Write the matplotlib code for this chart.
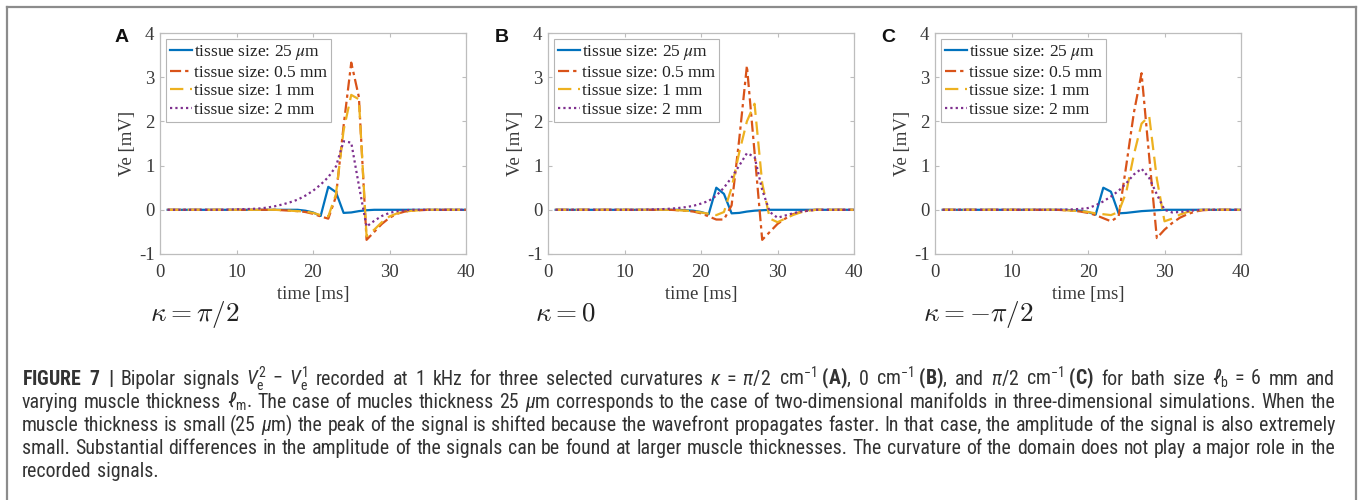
import matplotlib
matplotlib.use("Agg")
import matplotlib.pyplot as plt
from matplotlib import font_manager
from matplotlib.font_manager import FontProperties
from matplotlib.lines import Line2D

# time axis, sampled at 1 kHz (1 ms steps)
t = list(range(1, 41))

# panel A: kappa = pi/2
blue_a = [0, 0, 0, 0, 0, 0, 0, 0, 0, 0,
          0, 0, 0, 0, 0, 0, 0, 0, -0.02, -0.06,
          -0.14, 0.52, 0.40, -0.07, -0.06, -0.03, -0.01, 0, 0, 0,
          0, 0, 0, 0, 0, 0, 0, 0, 0, 0]
red_a = [0, 0, 0, 0, 0, 0, 0, 0, 0, 0,
         0, 0, 0, 0, 0, -0.01, -0.02, -0.03, -0.05, -0.09,
         -0.15, -0.2, 0.3, 1.9, 3.33, 2.55, -0.68, -0.5, -0.32, -0.18,
         -0.09, -0.04, -0.02, -0.01, 0, 0, 0, 0, 0, 0]
yellow_a = [0, 0, 0, 0, 0, 0, 0, 0, 0, 0,
            0, 0, 0, 0, 0, -0.01, -0.02, -0.03, -0.04, -0.07,
            -0.12, -0.15, 0.35, 1.8, 2.6, 2.5, -0.6, -0.45, -0.28, -0.15,
            -0.08, -0.04, -0.02, -0.01, 0, 0, 0, 0, 0, 0]
purple_a = [0, 0, 0, 0, 0, 0, 0, 0, 0.005, 0.01,
            0.015, 0.02, 0.03, 0.05, 0.08, 0.12, 0.17, 0.23, 0.32, 0.43,
            0.57, 0.74, 0.98, 1.55, 1.52, 0.55, -0.38, -0.25, -0.14, -0.07,
            -0.03, -0.01, 0, 0, 0, 0, 0, 0, 0, 0]

# panel B: kappa = 0
blue_b = [0, 0, 0, 0, 0, 0, 0, 0, 0, 0,
          0, 0, 0, 0, 0, 0, 0, -0.01, -0.02, -0.05,
          -0.1, 0.5, 0.36, -0.08, -0.07, -0.04, -0.02, -0.01, 0, 0,
          0, 0, 0, 0, 0, 0, 0, 0, 0, 0]
red_b = [0, 0, 0, 0, 0, 0, 0, 0, 0, 0,
         0, 0, 0, 0, 0, 0, -0.01, -0.02, -0.04, -0.08,
         -0.15, -0.22, -0.22, 0.1, 1.6, 3.26, 1.3, -0.68, -0.5, -0.32,
         -0.2, -0.1, -0.05, -0.02, 0, 0, 0, 0, 0, 0]
yellow_b = [0, 0, 0, 0, 0, 0, 0, 0, 0, 0,
            0, 0, 0, 0, 0, 0, -0.01, -0.02, -0.03, -0.06,
            -0.09, -0.12, -0.05, 0.5, 1.3, 2.0, 2.4, 0.6, -0.2, -0.28,
            -0.2, -0.12, -0.06, -0.02, 0, 0, 0, 0, 0, 0]
purple_b = [0, 0, 0, 0, 0, 0, 0, 0, 0, 0,
            0, 0, 0.005, 0.01, 0.015, 0.025, 0.04, 0.06, 0.09, 0.14,
            0.2, 0.32, 0.5, 0.73, 1.0, 1.28, 1.2, 0.45, -0.05, -0.18,
            -0.13, -0.08, -0.04, -0.02, 0, 0, 0, 0, 0, 0]

# panel C: kappa = -pi/2
blue_c = [0, 0, 0, 0, 0, 0, 0, 0, 0, 0,
          0, 0, 0, 0, 0, 0, 0, -0.01, -0.02, -0.05,
          -0.11, 0.5, 0.41, -0.08, -0.07, -0.05, -0.03, -0.02, -0.01, 0,
          0, 0, 0, 0, 0, 0, 0, 0, 0, 0]
red_c = [0, 0, 0, 0, 0, 0, 0, 0, 0, 0,
         0, 0, 0, 0, 0, 0, -0.01, -0.02, -0.04, -0.07,
         -0.12, -0.19, -0.26, -0.15, 1.0, 2.2, 3.09, 1.2, -0.64, -0.45,
         -0.3, -0.18, -0.1, -0.04, -0.01, 0, 0, 0, 0, 0]
yellow_c = [0, 0, 0, 0, 0, 0, 0, 0, 0, 0,
            0, 0, 0, 0, 0, 0, -0.01, -0.02, -0.03, -0.05,
            -0.08, -0.1, -0.12, -0.05, 0.4, 1.25, 1.95, 2.12, 0.7, -0.26,
            -0.2, -0.11, -0.05, -0.02, 0, 0, 0, 0, 0, 0]
purple_c = [0, 0, 0, 0, 0, 0, 0, 0, 0, 0,
            0, 0, 0, 0, 0, 0, 0.005, 0.01, 0.02, 0.04,
            0.1, 0.19, 0.3, 0.43, 0.6, 0.8, 0.93, 0.72, 0.35, 0.0,
            -0.06, -0.05, -0.03, -0.01, 0, 0, 0, 0, 0, 0]

labels = [r"tissue size: 25 $\mu$m", "tissue size: 0.5 mm",
          "tissue size: 1 mm", "tissue size: 2 mm"]
panel_letters = ["A", "B", "C"]
kappa_labels = [r"$\kappa = \pi/2$", r"$\kappa = 0$", r"$\kappa = -\pi/2$"]
x_ticks = [0, 10, 20, 30, 40]
y_ticks = [-1, 0, 1, 2, 3, 4]

colors = ["#0072BD", "#D95319", "#EDB120", "#7E2F8E"]
styles = ["-", (0, (5, 1.8, 1.5, 1.8)), (0, (6, 3)), (0, (1, 1.4))]

# caption lines, words separated by single spaces (no spaces inside $...$)
caption = [
    r"$\mathbf{FIGURE}$ $\mathbf{7}$ $\mathbf{|}$ Bipolar signals "
    r"$V_{\mathrm{e}}^2\;-\;V_{\mathrm{e}}^1$ recorded at 1 kHz for three selected curvatures "
    r"$\kappa\;=\;\pi/2$ cm$^{-1}\;\mathbf{(A)}$, 0 cm$^{-1}\;\mathbf{(B)}$, and "
    r"$\pi/2$ cm$^{-1}\;\mathbf{(C)}$ for bath size $\ell_{\mathrm{b}}\;=\;6$ mm and",
    r"varying muscle thickness $\ell_{\mathrm{m}}$. The case of mucles thickness 25 $\mu$m corresponds "
    r"to the case of two-dimensional manifolds in three-dimensional simulations. When the",
    r"muscle thickness is small (25 $\mu$m) the peak of the signal is shifted because the wavefront "
    r"propagates faster. In that case, the amplitude of the signal is also extremely",
    "small. Substantial differences in the amplitude of the signals can be found at larger muscle "
    "thicknesses. The curvature of the domain does not play a major role in the",
    "recorded signals.",
]
caption_baseline = [385, 408, 431, 454, 477]


def pick_font(names):
    for name in names:
        try:
            font_manager.findfont(name, fallback_to_default=False)
            return name
        except ValueError:
            pass
    return "DejaVu Sans"


cap_font = pick_font(["Liberation Sans Narrow", "Roboto Condensed", "Liberation Sans"])

plt.rcParams["font.family"] = "Liberation Serif"
plt.rcParams["axes.unicode_minus"] = False
plt.rcParams["mathtext.fontset"] = "custom"
plt.rcParams["mathtext.rm"] = cap_font
plt.rcParams["mathtext.it"] = cap_font + ":italic"
plt.rcParams["mathtext.bf"] = cap_font + ":bold"

W, H = 1360, 500
fig = plt.figure(figsize=(W / 100, H / 100), dpi=100)


def fx(px):
    return px / W


def fy(py):
    return 1 - py / H


# grey frame round the figure (bottom edge is cut off)
for xs, ys in [([7, 7], [H + 5, 7]), ([7, 1356], [7, 7]), ([1356, 1356], [7, H + 5])]:
    fig.add_artist(Line2D([fx(x) for x in xs], [fy(y) for y in ys],
                          color="#8c8c8c", lw=1.6, transform=fig.transFigure))

panels = [
    (160, 122, 150, [blue_a, red_a, yellow_a, purple_a]),
    (548, 502, 535, [blue_b, red_b, yellow_b, purple_b]),
    (935, 888, 923, [blue_c, red_c, yellow_c, purple_c]),
]

legend_font = FontProperties(family="Liberation Serif", size=12.5, math_fontfamily="stix")

for i, (left, letter_x, kappa_x, series) in enumerate(panels):
    ax = fig.add_axes([fx(left), fy(254), 306 / W, 221 / H])
    for values, color, ls, label in zip(series, colors, styles, labels):
        ax.plot(t, values, color=color, ls=ls, lw=1.6, label=label)
    ax.set_xlim(0, 40)
    ax.set_ylim(-1, 4)
    ax.set_xticks(x_ticks)
    ax.set_yticks(y_ticks)
    for s in ax.spines.values():
        s.set_color("#bdbdbd")
        s.set_linewidth(0.9)
    ax.tick_params(direction="in", top=True, right=True, length=3, width=0.8,
                   color="#bdbdbd", labelsize=13.5, labelcolor="#3a3a3a")
    ax.tick_params(axis="x", pad=7)
    ax.tick_params(axis="y", pad=4)
    ax.set_xlabel("time [ms]", fontsize=13.5, color="#3a3a3a", labelpad=4)
    ax.set_ylabel("Ve [mV]", fontsize=13.5, color="#3a3a3a", labelpad=2)
    leg = ax.legend(loc="upper left", prop=legend_font, frameon=True, fancybox=False,
                    framealpha=1, edgecolor="#b5b5b5", borderpad=0.25,
                    labelspacing=0.13, handlelength=1.25, handletextpad=0.1,
                    borderaxespad=0.35)
    leg.get_frame().set_linewidth(0.8)
    for txt in leg.get_texts():
        txt.set_color("#222222")

    fig.text(fx(letter_x), fy(37), panel_letters[i], family="Liberation Sans",
             fontweight="bold", fontsize=14, ha="center", va="center", color="#111111")
    fig.text(fx(kappa_x), fy(314), kappa_labels[i], fontsize=19.5, ha="left", va="center",
             math_fontfamily="cm", color="#222222")

# caption: words placed one by one so lines 1-4 are justified
renderer = fig.canvas.get_renderer()
cap_left, cap_right = 22, 1335
base_size = 12
rows = []
for line, yb in zip(caption, caption_baseline):
    words = []
    for w in line.split(" "):
        words.append(fig.text(0, fy(yb), w, fontsize=base_size, ha="left", va="baseline",
                              family=[cap_font, "DejaVu Sans"], color="#333333",
                              math_fontfamily="custom"))
    rows.append(words)

space_px = 0.25 * base_size * 100 / 72
natural = []
for words in rows[:4]:
    ws = [w.get_window_extent(renderer).width for w in words]
    natural.append(sum(ws) + space_px * (len(ws) - 1))
scale = (cap_right - cap_left - 6) / max(natural)
size = base_size * scale
space_px *= scale

for k, words in enumerate(rows):
    for w in words:
        w.set_fontsize(size)
    ws = [w.get_window_extent(renderer).width for w in words]
    if k < 4 and len(ws) > 1:
        gap = (cap_right - cap_left - sum(ws)) / (len(ws) - 1)
    else:
        gap = space_px
    x = cap_left
    for w, wd in zip(words, ws):
        w.set_x(fx(x))
        x += wd + gap

fig.savefig("out.png", dpi=100, facecolor="white")
